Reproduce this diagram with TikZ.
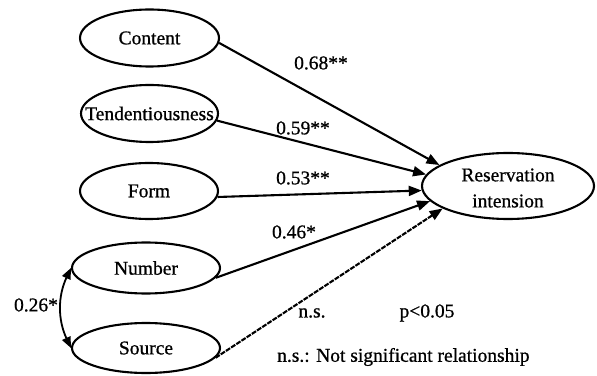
\documentclass[tikz,border=0pt]{standalone}
\usepackage{fontspec}
\setmainfont{Liberation Serif}[FakeBold=0.8]
\usetikzlibrary{shapes.geometric,arrows.meta}
\begin{document}
\begin{tikzpicture}[x=1pt,y=1pt,
  every node/.style={font=\fontsize{19.5}{26}\selectfont},
  var/.style={ellipse,draw,line width=2.1pt,inner sep=0pt},
  path/.style={line width=2.1pt,-{Triangle[length=13pt,width=10pt]}},
  nspath/.style={path,dash pattern=on 5pt off 1.2pt},
  corr/.style={line width=1.8pt,{Triangle[length=11pt,width=9pt]}-{Triangle[length=11pt,width=9pt]}},
  lab/.style={inner sep=0pt}]
\useasboundingbox (0,0) rectangle (597,375);
\node[var,minimum width=139pt,minimum height=57pt] (C) at (149.5,337) {\makebox[0pt]{Content}};
\node[var,minimum width=137pt,minimum height=57pt] (T) at (149.5,261.5) {\makebox[0pt]{Tendentiousness}};
\node[var,minimum width=138pt,minimum height=56pt] (F) at (149,184) {\makebox[0pt]{Form}};
\node[var,minimum width=148pt,minimum height=51pt] (N) at (146,107) {\makebox[0pt]{Number}};
\node[var,minimum width=148pt,minimum height=50pt] (S) at (146,27) {\makebox[0pt]{Source}};
\node[var,minimum width=172pt,minimum height=66pt] (R) at (508,189) {};
\node[lab,align=center] (Rt) at (508,187) {Reservation\\intension};

\draw[path] (C.-4) -- (R.163);
\draw[path] (T.-6) -- (R.172.5);
\draw[path] (F.-5) -- (R.183);
\draw[path] (N.-8) -- (R.191);
\draw[nspath] (S.-8) -- (R.199);
\draw[corr] (N.west) to[out=245,in=115] (S.west);

\node[lab] (l1) at (321,312) {0.68**};
\node[lab] (l2) at (303,247) {0.59**};
\node[lab] (l3) at (303,197) {0.53**};
\node[lab] (l4) at (294,143) {0.46*};
\node[lab] (l5) at (36,70) {0.26*};
\node[lab] (ns) at (312,62) {n.s.};
\node[lab] (p) at (427,62) {p<0.05};
\node[lab,anchor=west] (note) at (277,18) {n.s.: Not significant relationship};
\end{tikzpicture}
\end{document}
